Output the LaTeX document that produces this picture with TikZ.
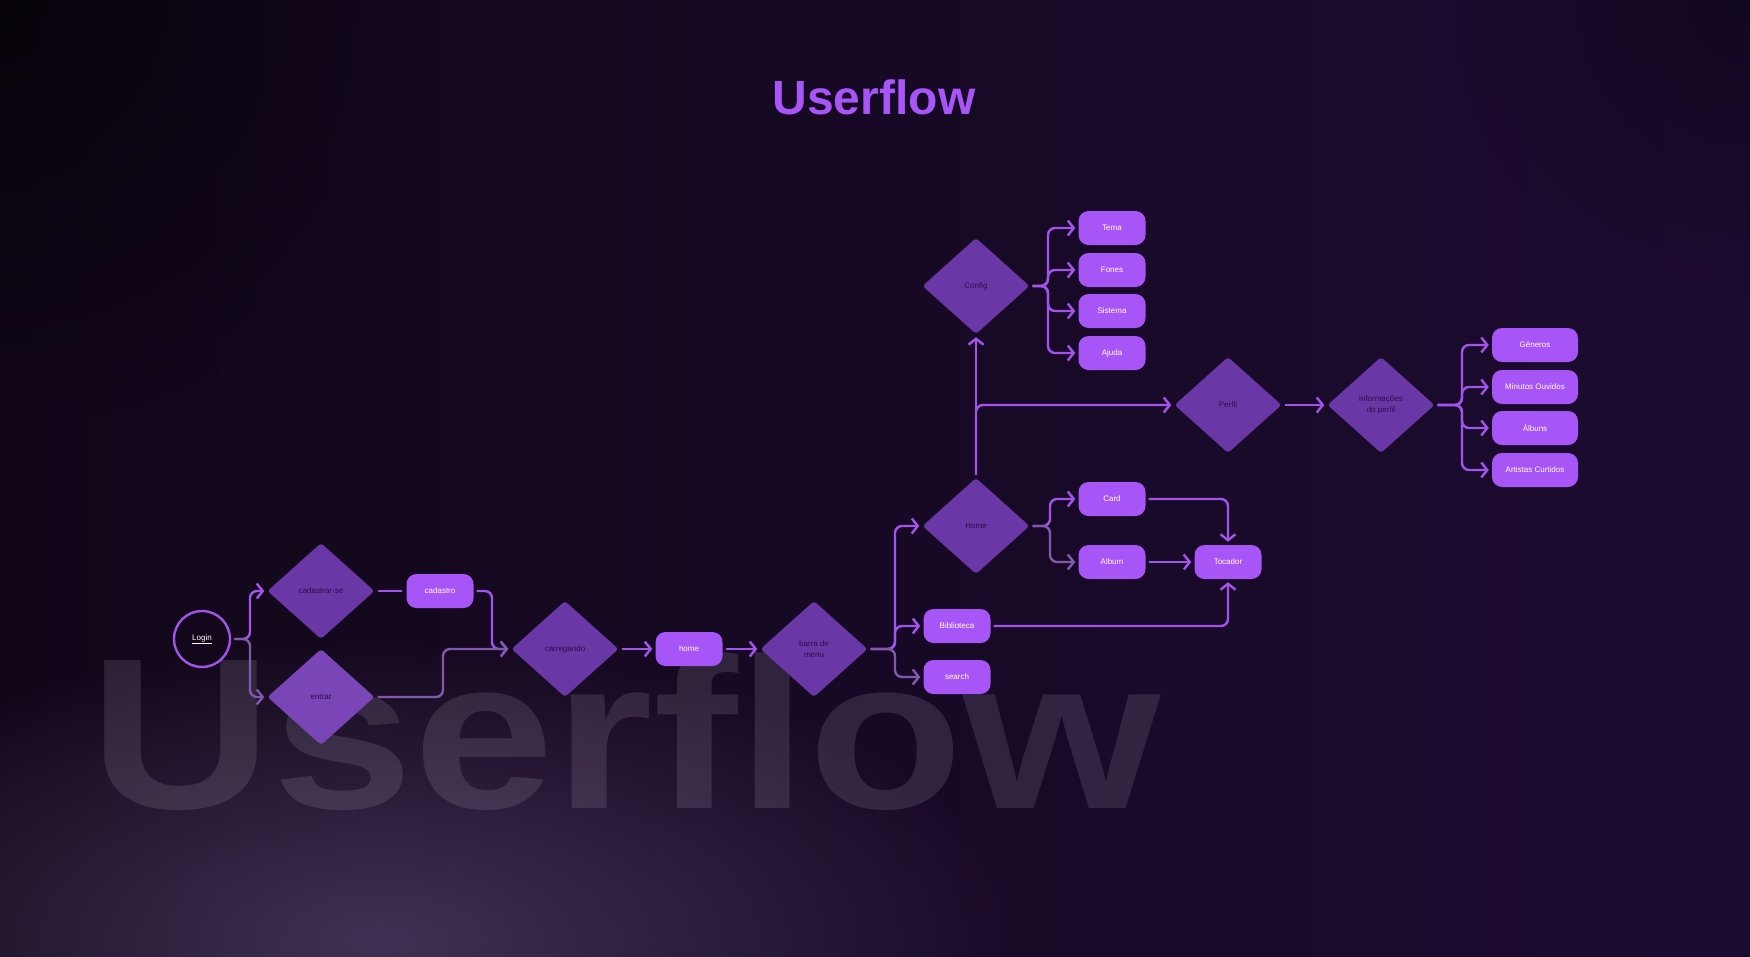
\documentclass[tikz,border=0pt]{standalone}
\usepackage{fontspec}
\setmainfont{Liberation Sans}
\usetikzlibrary{arrows.meta, shapes.geometric, fadings}

\definecolor{bg_left}{HTML}{120719}
\definecolor{bg_mid}{HTML}{251141}
\definecolor{bg_right}{HTML}{1C0B31}
\definecolor{haze}{HTML}{5E4C78}
\definecolor{ghost}{HTML}{CFC6DA}
\definecolor{boxfill}{HTML}{A855F7}
\definecolor{diafill}{HTML}{6A37A6}
\definecolor{diapale}{HTML}{7A45B6}
\definecolor{diatext}{HTML}{2A1048}
\definecolor{linecol}{HTML}{A254EA}
\definecolor{linedim}{HTML}{8058AC}

\tikzfading[name=glow_fade, inner color=transparent!0, outer color=transparent!100]

\begin{document}
\begin{tikzpicture}[x=1pt, y=-1pt]
        % Styles for boxes, decisions and connectors
        \tikzset{
            n_box/.style={fill=boxfill, rounded corners=10pt, minimum width=67pt, minimum height=34pt,
                inner sep=0pt, text=white, font=\fontsize{8}{10.7}\selectfont},
            n_wide/.style={n_box, minimum width=86pt},
            n_dia/.style={diamond, fill=diafill, rounded corners=3pt, minimum width=107pt, minimum height=96pt,
                inner sep=0pt, text=diatext, align=center, font=\fontsize{8}{10.7}\selectfont},
            n_dia_pale/.style={n_dia, fill=diapale},
            flow/.style={draw=linecol, line width=2.4pt, rounded corners=7pt, shorten <=3pt, shorten >=3pt,
                -{Straight Barb[length=6pt, width=15pt]}},
            flow_dim/.style={flow, draw=linedim},
            link/.style={draw=linecol, line width=2.4pt}
        }

        % Background
        \useasboundingbox (0,0) rectangle (1750,956);
        \shade[left color=bg_left, middle color=bg_mid, right color=bg_right] (0,0) rectangle (1750,956);
        \fill[black, opacity=0.6, path fading=glow_fade] (0,0) circle (430);
        \fill[black, opacity=0.35, path fading=glow_fade] (1750,0) circle (300);
        \fill[haze, opacity=0.6, path fading=glow_fade] (380,940) ellipse (650 and 300);

        % Blurred title in the back
        \node[anchor=base, text=ghost, opacity=0.14, xscale=1.18,
            font=\fontsize{215}{215}\selectfont\bfseries] (ghost) at (625,808) {Userflow};

        % Title
        \node[text=boxfill, font=\fontsize{48}{50}\selectfont\bfseries] (title) at (874,97) {Userflow};

        % Login and first decisions
        \node[circle, draw=linecol, line width=2.4pt, minimum size=56pt, inner sep=0pt, text=white,
            font=\fontsize{8}{10.7}\selectfont] (login) at (202,639) {\underline{Login}};
        \node[n_dia] (cad) at (321,591) {cadastrar-se};
        \node[n_dia_pale] (entrar) at (321,697) {entrar};
        \node[n_box] (cadastro) at (440,591) {cadastro};
        \node[n_dia] (carregando) at (565,649) {carregando};
        \node[n_box] (home) at (689,649) {home};
        \node[n_dia] (barra) at (814,649) {barra de\\menu};

        % Menu targets
        \node[n_dia] (homed) at (976,526) {Home};
        \node[n_box] (bib) at (957,626) {Biblioteca};
        \node[n_box] (search) at (957,677) {search};
        \node[n_box] (card) at (1112,499) {Card};
        \node[n_box] (album) at (1112,562) {Album};
        \node[n_box] (tocador) at (1228,562) {Tocador};

        % Config
        \node[n_dia] (config) at (976,286) {Config};
        \node[n_box] (tema) at (1112,228) {Tema};
        \node[n_box] (fones) at (1112,270) {Fones};
        \node[n_box] (sistema) at (1112,311) {Sistema};
        \node[n_box] (ajuda) at (1112,353) {Ajuda};

        % Perfil
        \node[n_dia] (perfil) at (1228,405) {Perfil};
        \node[n_dia] (info) at (1381,405) {informações\\do perfil};
        \node[n_wide] (gen) at (1535,345) {Gêneros};
        \node[n_wide] (minutos) at (1535,387) {Minutos Ouvidos};
        \node[n_wide] (albuns) at (1535,428) {Álbuns};
        \node[n_wide] (artistas) at (1535,470) {Artistas Curtidos};

        % Login flow
        \draw[flow] (login.east) -- (250,639) |- (cad.west);
        \draw[flow_dim] (login.east) -- (250,639) |- (entrar.west);
        \draw[link, shorten <=3pt, shorten >=4pt] (cad.east) -- (cadastro.west);
        \draw[flow] (cadastro.east) -- (492,591) |- (carregando.west);
        \draw[flow_dim] (entrar.east) -| (443,649) -- (carregando.west);
        \draw[flow] (carregando.east) -- (home.west);
        \draw[flow] (home.east) -- (barra.west);

        % Menu
        \draw[flow] (barra.east) -- (895,649) |- (homed.west);
        \draw[flow] (barra.east) -- (895,649) |- (bib.west);
        \draw[flow_dim] (barra.east) -- (895,649) |- (search.west);
        \draw[flow] (homed.east) -- (1050,526) |- (card.west);
        \draw[flow_dim] (homed.east) -- (1050,526) |- (album.west);
        \draw[flow] (card.east) -| (tocador.north);
        \draw[flow] (album.east) -- (tocador.west);
        \draw[flow] (bib.east) -| (tocador.south);

        % Up to Config and Perfil
        \draw[flow] (homed.north) -- (config.south);
        \draw[flow] (homed.north) |- (perfil.west);
        \foreach \n in {tema, fones, sistema, ajuda} {
            \draw[flow] (config.east) -- (1048,286) |- (\n.west);
        }
        \draw[flow] (perfil.east) -- (info.west);
        \foreach \n in {gen, minutos, albuns, artistas} {
            \draw[flow] (info.east) -- (1462,405) |- (\n.west);
        }

    \end{tikzpicture}
\end{document}
